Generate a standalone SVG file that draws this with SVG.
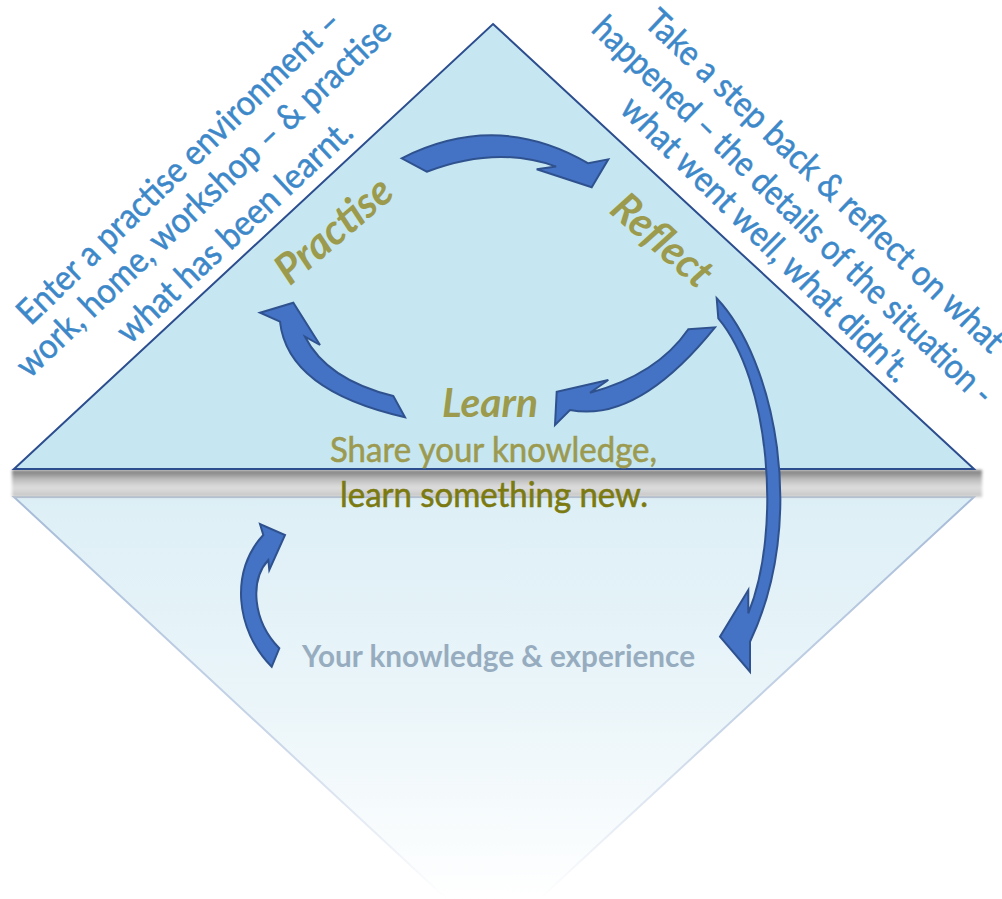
<svg xmlns="http://www.w3.org/2000/svg" width="1002" height="899" viewBox="0 0 1002 899">
<defs>
<linearGradient id="refl" x1="0" y1="497" x2="0" y2="899" gradientUnits="userSpaceOnUse">
<stop offset="0" stop-color="#ddeff6"/>
<stop offset="0.5" stop-color="#eaf5f9"/>
<stop offset="1" stop-color="#ffffff"/>
</linearGradient>
<linearGradient id="reflStroke" x1="0" y1="497" x2="0" y2="899" gradientUnits="userSpaceOnUse">
<stop offset="0" stop-color="#a6bbd8"/>
<stop offset="0.6" stop-color="#c9d6e8"/>
<stop offset="1" stop-color="#ffffff"/>
</linearGradient>
<linearGradient id="band" x1="0" y1="470" x2="0" y2="497" gradientUnits="userSpaceOnUse">
<stop offset="0" stop-color="#767676"/>
<stop offset="0.35" stop-color="#bdbdbd"/>
<stop offset="0.65" stop-color="#dedede"/>
<stop offset="1" stop-color="#c4c4c4"/>
</linearGradient>
<filter id="soft" x="-5%" y="-50%" width="110%" height="200%">
<feGaussianBlur stdDeviation="1.5"/>
</filter>
<style>
.blue{font-family:Lato,"Liberation Sans",sans-serif;font-size:35px;fill:#3d88c9;stroke:#3d88c9;stroke-width:0.5;}
.head{font-family:Lato,"Liberation Sans",sans-serif;font-size:42px;font-weight:bold;font-style:italic;fill:#9c9a4c;}
.sub{font-family:Lato,"Liberation Sans",sans-serif;font-size:35px;stroke-width:0.6;}
.exp{font-family:Lato,"Liberation Sans",sans-serif;font-size:31px;font-weight:bold;fill:#97adbf;}
.arrow{fill:#4472c4;stroke:#2f528f;stroke-width:2;stroke-linejoin:miter;}
</style>
</defs>

<g id="reflection">
<polygon points="14,497 974,497 493,942" fill="url(#refl)" stroke="url(#reflStroke)" stroke-width="2"/>
</g>
<g id="band-shadow">
<rect x="12" y="470" width="970" height="27" fill="url(#band)" filter="url(#soft)"/>
</g>
<g id="triangle">
<polygon points="493,24 974,469 14,469" fill="#c6e7f1" stroke="#2c4d8e" stroke-width="2"/>
</g>

<g id="text-practise-desc">
<text class="blue" text-anchor="middle" textLength="435" lengthAdjust="spacingAndGlyphs" transform="translate(187,175.5) rotate(-44)">Enter a practise environment –</text>
<text class="blue" text-anchor="middle" textLength="502" lengthAdjust="spacingAndGlyphs" transform="translate(211.5,206.5) rotate(-43.5)">work, home, workshop – &amp; practise</text>
<text class="blue" text-anchor="middle" textLength="308" lengthAdjust="spacingAndGlyphs" transform="translate(242.5,240) rotate(-43)">what has been learnt.</text>
</g>

<g id="text-reflect-desc">
<text class="blue" text-anchor="middle" textLength="480" lengthAdjust="spacingAndGlyphs" transform="translate(816.5,189.5) rotate(43.5)">Take a step back &amp; reflect on what</text>
<text class="blue" text-anchor="middle" textLength="542" lengthAdjust="spacingAndGlyphs" transform="translate(785,219) rotate(44)">happened – the details of the situation -</text>
<text class="blue" text-anchor="middle" textLength="390" lengthAdjust="spacingAndGlyphs" transform="translate(757.5,247.5) rotate(44.5)">what went well, what didn’t.</text>
</g>

<g id="node-practise">
<text class="head" text-anchor="middle" textLength="140" lengthAdjust="spacingAndGlyphs" transform="translate(343,241) rotate(-40.5)">Practise</text>
</g>
<g id="node-reflect">
<text class="head" text-anchor="middle" textLength="119" lengthAdjust="spacingAndGlyphs" transform="translate(653,251) rotate(41)">Reflect</text>
</g>
<g id="node-learn">
<text class="head" x="490" y="417" text-anchor="middle" textLength="96" lengthAdjust="spacingAndGlyphs" style="font-size:40px">Learn</text>
<text class="sub" x="493.5" y="462" fill="#9c9a50" stroke="#9c9a50" text-anchor="middle" textLength="327" lengthAdjust="spacingAndGlyphs">Share your knowledge,</text>
<text class="sub" x="494" y="507" fill="#7b7a10" stroke="#7b7a10" text-anchor="middle" textLength="308" lengthAdjust="spacingAndGlyphs">learn something new.</text>
</g>
<g id="node-experience">
<text class="exp" x="498.5" y="667" text-anchor="middle" textLength="393" lengthAdjust="spacingAndGlyphs">Your knowledge &amp; experience</text>
</g>

<g id="connectors">
<path class="arrow" d="M401.7,158.3 Q497,110 588.3,163.3 L608.3,159.3 L591.7,187.3 L536.7,169.3 L556,166.6 Q497,145 426.7,171.7 Z"/>
<path class="arrow" d="M688.3,329.3 L715,327.3 Q637.5,423.3 570,410 L555,425 L556.7,391.7 L608.3,380 L590,392.7 Q656.8,375 688.3,329.3 Z"/>
<path class="arrow" d="M393.3,396 L405,417.3 Q287.5,390.5 280,321.7 L260,312.7 L293.3,302.7 L320,345 L305,336.7 Q326.8,379.6 393.3,396 Z"/>
<path class="arrow" d="M716.7,298.3 C775,360 808,520 750,641.7 L750,671.7 L720,636.7 L748.3,590 L748.3,613.3 C782,530 770,380 718.3,318.3 Z"/>
<path class="arrow" d="M271.7,666.7 C235,630 230,570 263.3,535 L260,524 L285,535 L269.3,570 L268.3,560 C250,580 252,620 279.3,648.3 Z"/>
</g>
</svg>
